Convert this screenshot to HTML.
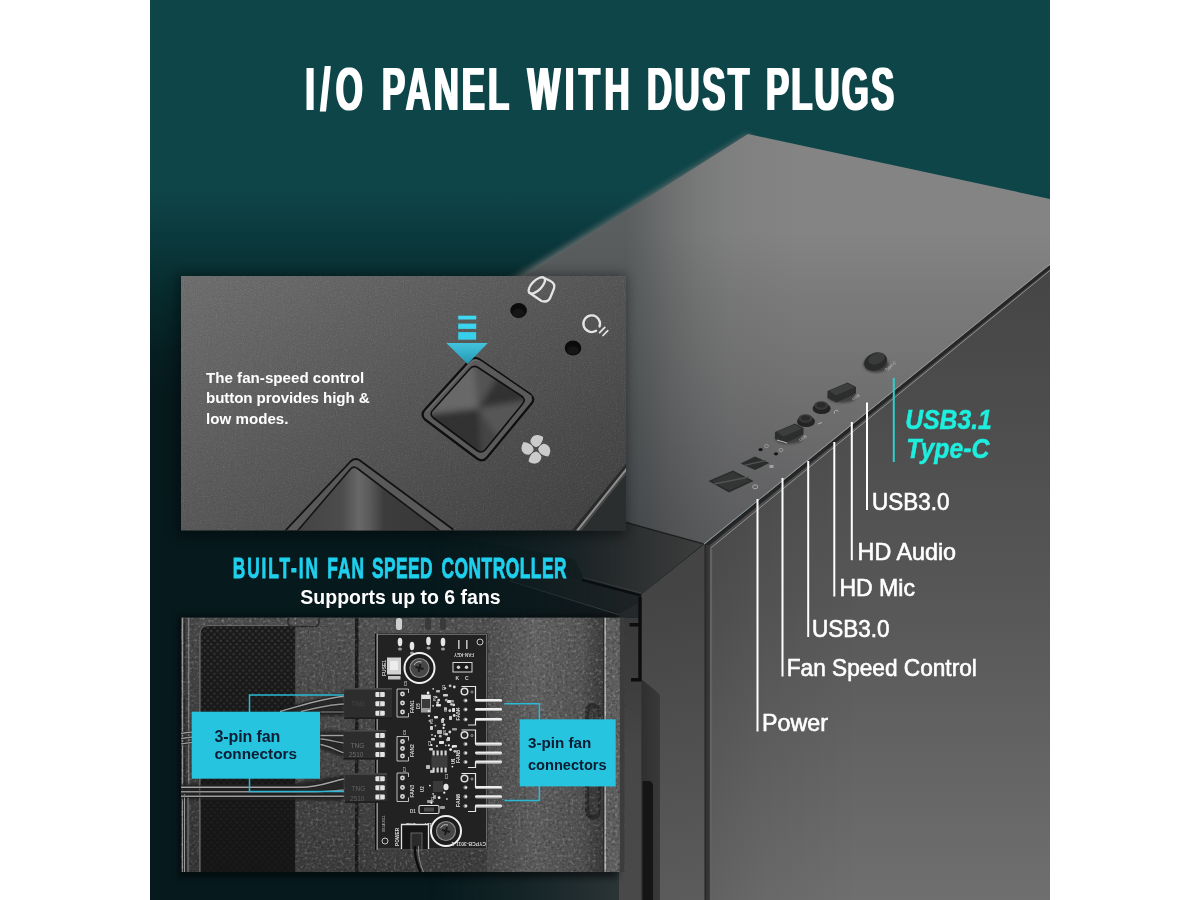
<!DOCTYPE html>
<html lang="en">
<head>
<meta charset="utf-8">
<title>I/O Panel with Dust Plugs</title>
<style>
html,body{margin:0;padding:0;background:#fff;}
body{width:1200px;height:900px;overflow:hidden;position:relative;font-family:"Liberation Sans",sans-serif;}
#stage{position:absolute;left:150px;top:0;width:900px;height:900px;overflow:hidden;background:#0d464b;}
#stage svg{position:absolute;left:0;top:0;display:block;opacity:.999;}
text{font-family:"Liberation Sans",sans-serif;}
.lbl{font-size:23.4px;fill:#fff;stroke:#fff;stroke-width:.6px;}
.ln{stroke:#fff;stroke-width:2;}
</style>
</head>
<body>
<div id="stage">
<svg width="900" height="900" viewBox="150 0 900 900">
<defs>
<linearGradient id="gBg" x1="0" y1="0" x2="0" y2="1">
 <stop offset="0" stop-color="#0e4549"/>
 <stop offset="0.21" stop-color="#0e4549"/>
 <stop offset="0.272" stop-color="#0a373b"/>
 <stop offset="0.333" stop-color="#07292b"/>
 <stop offset="0.39" stop-color="#061e21"/>
 <stop offset="0.444" stop-color="#06191c"/>
 <stop offset="1" stop-color="#061a1e"/>
</linearGradient>
<linearGradient id="gTop" x1="0" y1="134" x2="0" y2="545" gradientUnits="userSpaceOnUse">
 <stop offset="0" stop-color="#848484"/>
 <stop offset="0.2336" stop-color="#848484"/>
 <stop offset="0.404" stop-color="#7a7a7a"/>
 <stop offset="0.5255" stop-color="#757575"/>
 <stop offset="0.708" stop-color="#6c6c6d"/>
 <stop offset="0.89" stop-color="#636365"/>
 <stop offset="1" stop-color="#5e5e60"/>
</linearGradient>
<linearGradient id="gSide" x1="0" y1="265" x2="0" y2="900" gradientUnits="userSpaceOnUse">
 <stop offset="0" stop-color="#454545"/>
 <stop offset="0.53" stop-color="#575757"/>
 <stop offset="1" stop-color="#6f6f6f"/>
</linearGradient>
<linearGradient id="gP1" x1="181" y1="276" x2="429" y2="663.3" gradientUnits="userSpaceOnUse">
 <stop offset="0" stop-color="#6e6e6e"/>
 <stop offset="1" stop-color="#3e3e3e"/>
</linearGradient>
<filter id="blur3" x="-20%" y="-20%" width="140%" height="140%"><feGaussianBlur stdDeviation="3"/></filter>
<filter id="blur6" x="-20%" y="-20%" width="140%" height="140%"><feGaussianBlur stdDeviation="6"/></filter>
<filter id="blur1" x="-20%" y="-20%" width="140%" height="140%"><feGaussianBlur stdDeviation="1"/></filter>
<filter id="fatx" x="-2%" y="-10%" width="104%" height="120%"><feMorphology operator="dilate" radius="1 0"/></filter>
<filter id="fatx2" x="-2%" y="-10%" width="104%" height="120%"><feMorphology operator="dilate" radius="0.5 0"/></filter>
<linearGradient id="gTopShade" x1="626" y1="0" x2="800" y2="0" gradientUnits="userSpaceOnUse">
 <stop offset="0" stop-color="#0a1416" stop-opacity=".34"/>
 <stop offset="0.138" stop-color="#0a1416" stop-opacity=".26"/>
 <stop offset="0.253" stop-color="#0a1416" stop-opacity=".18"/>
 <stop offset="0.425" stop-color="#0a1416" stop-opacity=".095"/>
 <stop offset="0.6" stop-color="#0a1416" stop-opacity=".04"/>
 <stop offset="1" stop-color="#0a1416" stop-opacity="0"/>
</linearGradient>
<linearGradient id="gSideL" x1="710" y1="0" x2="860" y2="0" gradientUnits="userSpaceOnUse">
 <stop offset="0" stop-color="#000" stop-opacity=".12"/>
 <stop offset="0.35" stop-color="#000" stop-opacity=".06"/>
 <stop offset="1" stop-color="#000" stop-opacity="0"/>
</linearGradient>
<linearGradient id="gFront" x1="642" y1="600" x2="704" y2="900" gradientUnits="userSpaceOnUse">
 <stop offset="0" stop-color="#444"/>
 <stop offset="0.5" stop-color="#505050"/>
 <stop offset="1" stop-color="#5c5c5c"/>
</linearGradient>
<linearGradient id="gBevel" x1="560" y1="0" x2="705" y2="0" gradientUnits="userSpaceOnUse">
 <stop offset="0" stop-color="#202729"/>
 <stop offset="0.45" stop-color="#2a2d2e"/>
 <stop offset="1" stop-color="#3d3e3e"/>
</linearGradient>
<clipPath id="cpP1"><rect x="181" y="276" width="445" height="254.5"/></clipPath>
<clipPath id="cpBtn"><path d="M433.5,409.500 L469.7,369 Q473.3,364.5 478,367.5 L521.5,396 Q526.5,399.5 522.5,404 L485.500,449.5 Q481.800,454 477,450.5 L433.5,418 Q428.5,413.5 433.5,409.500 Z"/></clipPath>
<linearGradient id="gBtn2" x1="300" y1="0" x2="440" y2="0" gradientUnits="userSpaceOnUse">
 <stop offset="0" stop-color="#444"/>
 <stop offset="0.3" stop-color="#4c4c4c"/>
 <stop offset="0.42" stop-color="#686868"/>
 <stop offset="0.5" stop-color="#5a5a5a"/>
 <stop offset="0.6" stop-color="#3c3c3c"/>
 <stop offset="1" stop-color="#383838"/>
</linearGradient>
<linearGradient id="gArrow" x1="0" y1="343" x2="0" y2="364" gradientUnits="userSpaceOnUse">
 <stop offset="0" stop-color="#43c4de"/>
 <stop offset="1" stop-color="#2796b2"/>
</linearGradient>
<clipPath id="cpPhoto"><rect x="181" y="617.500" width="443.300" height="254.500"/></clipPath>
<pattern id="mesh" x="200" y="626" width="6.400" height="6.600" patternUnits="userSpaceOnUse">
 <circle cx="1.600" cy="1.650" r="1.150" fill="#3a3a3a"/><circle cx="4.800" cy="4.950" r="1.150" fill="#3a3a3a"/>
</pattern>
<filter id="fGrain" x="0" y="0" width="100%" height="100%" color-interpolation-filters="sRGB">
 <feTurbulence type="fractalNoise" baseFrequency="0.85" numOctaves="2" seed="3" result="n"/>
 <feColorMatrix in="n" type="matrix" values="0 0 0 0 1  0 0 0 0 1  0 0 0 0 1  1.6 0 0 0 -0.8" result="w"/>
 <feColorMatrix in="n" type="matrix" values="0 0 0 0 0  0 0 0 0 0  0 0 0 0 0  0 -1.6 0 0 0.8" result="b"/>
 <feMerge><feMergeNode in="w"/><feMergeNode in="b"/></feMerge>
</filter>
<pattern id="grain" x="0" y="0" width="220" height="220" patternUnits="userSpaceOnUse">
 <rect width="220" height="220" filter="url(#fGrain)"/>
</pattern>
<filter id="fGrainP" x="0" y="0" width="100%" height="100%" color-interpolation-filters="sRGB">
 <feTurbulence type="fractalNoise" baseFrequency="0.36" numOctaves="2" seed="11" result="n"/>
 <feColorMatrix in="n" type="matrix" values="0 0 0 0 1  0 0 0 0 1  0 0 0 0 1  2.2 0 0 0 -1.1" result="w"/>
 <feColorMatrix in="n" type="matrix" values="0 0 0 0 0  0 0 0 0 0  0 0 0 0 0  0 -2.6 0 0 1.3" result="b"/>
 <feMerge><feMergeNode in="w"/><feMergeNode in="b"/></feMerge>
</filter>
<pattern id="grainP" x="0" y="0" width="230" height="260" patternUnits="userSpaceOnUse">
 <rect width="230" height="260" filter="url(#fGrainP)"/>
</pattern>
<linearGradient id="gPhotoV" x1="0" y1="618" x2="0" y2="872" gradientUnits="userSpaceOnUse">
 <stop offset="0" stop-color="#000" stop-opacity="0"/>
 <stop offset="1" stop-color="#000" stop-opacity=".2"/>
</linearGradient>
<linearGradient id="gFadeL" x1="430" y1="0" x2="625" y2="0" gradientUnits="userSpaceOnUse">
 <stop offset="0" stop-color="#fff" stop-opacity="0"/>
 <stop offset="0.45" stop-color="#fff" stop-opacity=".35"/>
 <stop offset="1" stop-color="#fff" stop-opacity="1"/>
</linearGradient>
<mask id="mFadeL" maskUnits="userSpaceOnUse" x="400" y="500" width="320" height="400"><rect x="400" y="500" width="320" height="400" fill="url(#gFadeL)"/><rect x="625" y="500" width="95" height="400" fill="#fff"/></mask>
<linearGradient id="gMid" x1="0" y1="618" x2="0" y2="872" gradientUnits="userSpaceOnUse">
 <stop offset="0" stop-color="#505050"/>
 <stop offset="1" stop-color="#404040"/>
</linearGradient>
<linearGradient id="gRightH" x1="487" y1="0" x2="604" y2="0" gradientUnits="userSpaceOnUse">
 <stop offset="0" stop-color="#4e4e4e"/>
 <stop offset="0.4" stop-color="#626262"/>
 <stop offset="0.8" stop-color="#565656"/>
 <stop offset="0.93" stop-color="#444"/>
 <stop offset="1" stop-color="#3c3c3c"/>
</linearGradient>
<linearGradient id="gMeshV" x1="0" y1="626" x2="0" y2="872" gradientUnits="userSpaceOnUse">
 <stop offset="0" stop-color="#171717" stop-opacity="0"/>
 <stop offset="0.5" stop-color="#171717" stop-opacity=".45"/>
 <stop offset="1" stop-color="#171717" stop-opacity=".85"/>
</linearGradient>
<linearGradient id="gInner" x1="0" y1="600" x2="0" y2="900" gradientUnits="userSpaceOnUse">
 <stop offset="0" stop-color="#383838"/>
 <stop offset="0.3" stop-color="#3e3e3e"/>
 <stop offset="0.5" stop-color="#474747"/>
 <stop offset="1" stop-color="#494949"/>
</linearGradient>
<linearGradient id="gBump" x1="641" y1="0" x2="660" y2="0" gradientUnits="userSpaceOnUse">
 <stop offset="0" stop-color="#000" stop-opacity=".18"/>
 <stop offset="1" stop-color="#000" stop-opacity="0"/>
</linearGradient>
<linearGradient id="gFrameV" x1="0" y1="618" x2="0" y2="872" gradientUnits="userSpaceOnUse">
 <stop offset="0" stop-color="#464646"/>
 <stop offset="1" stop-color="#383838"/>
</linearGradient>

</defs>
<rect x="150" y="0" width="900" height="900" fill="url(#gBg)"/>

<g id="case">
 <!-- soft (out of focus) far-left edge of the top face -->
 <polygon points="748,134 762,150 480,330 442,322" fill="#6d7172" filter="url(#blur3)" opacity=".9"/>
 <!-- top face -->
 <polygon points="748,134 1050,199 1050,265 704,544.5 600,514 452,322" fill="url(#gTop)"/>
 <polygon points="748,134 1050,199 1050,265 704,544.5 600,514 452,322" fill="url(#gTopShade)"/>
 <!-- side panel -->
 <polygon points="705,546 1050,265 1050,900 705,900" fill="url(#gSide)"/>
 <polygon points="705,546 1050,265 1050,900 705,900" fill="url(#gSideL)"/>
 <!-- seam between top face and side panel -->
 <line x1="704" y1="544.2" x2="1050" y2="264.2" stroke="#9a9a9a" stroke-width="1.1" opacity=".8"/>
 <line x1="705" y1="547" x2="1050" y2="266.8" stroke="#262626" stroke-width="3"/>
 <line x1="709.7" y1="548.9" x2="1050" y2="270.4" stroke="#9a9a9a" stroke-width="1" opacity=".85"/>
 <!-- side panel front strip -->
 <rect x="704.2" y="545" width="6" height="355" fill="#353535"/>
 <rect x="704.4" y="545" width="1.800" height="355" fill="#2a2a2a"/>
 <rect x="709.8" y="549" width="2.400" height="351" fill="#626262"/>
 <!-- lower bezel faded into the background -->
 <g mask="url(#mFadeL)">
  <rect x="400" y="872" width="242" height="28" fill="#2d3537"/>
  <polygon points="430,533 574,559 584,578.7 510,570 430,556" fill="#192022"/>
  <!-- top front bevel -->
  <polygon points="625.3,522.6 703.4,544 641.3,594.6 584,578.7 574,559 430,533 430,530.5 625.3,530.5" fill="url(#gBevel)"/>
  <!-- ledge under the bevel -->
  <polygon points="430,556 510,570 584,578.7 641.3,594.6 641.3,600.5 618.7,613.5 510,581 430,560" fill="#1d2224"/>
  <polygon points="430,560 510,581 618.7,613.5 618.7,618 430,618" fill="#14191b"/>
  <line x1="510" y1="581" x2="620" y2="615" stroke="#3c4244" stroke-width="1.100"/>
  <line x1="582" y1="580" x2="641.3" y2="595.600" stroke="#0b0d0e" stroke-width="2.400"/>
  <line x1="583" y1="577.600" x2="641" y2="593" stroke="#3a3e40" stroke-width=".9"/>
 </g>
 <line x1="625.3" y1="522.3" x2="703.6" y2="543.8" stroke="#1e1e1e" stroke-width="1.300"/>
 <!-- inner side of the bezel, right of the photo -->
 <rect x="619" y="617" width="24" height="283" fill="url(#gInner)"/>
 <polygon points="618.7,613.5 641.3,600.5 641.3,618 618.7,618" fill="#25282a"/>
 <!-- front face -->
 <polygon points="641.3,594.6 704.4,544 704.4,900 641.3,900" fill="url(#gFront)"/>
 <!-- handle bump -->
 <polygon points="641.3,679 658.2,693 660,696 660,900 641.3,900" fill="#393939"/>
 <polygon points="641.3,679 658.2,693 660,696 660,900 641.3,900" fill="url(#gBump)"/>
 <path d="M642.6,900 V781 H649 Q653,781.500 653,787 V900 Z" fill="#151515"/>
 <!-- black seam with ticks -->
 <path d="M640,597 V679 M629.500,624.800 H640 M631,679.800 H641.500" fill="none" stroke="#0d0d0d" stroke-width="3.400"/>
</g>
<g id="io">
 <polygon points="708.5,481 733,470.5 753.5,481 729,492.5" fill="#2a2b2b"/>
 <polygon points="712,481 733,472 750,481 729,490.5" fill="#343535"/>
 <line x1="714" y1="484" x2="749" y2="477" stroke="#515252" stroke-width="1.6"/>
 <ellipse cx="755.2" cy="486.8" rx="2.6" ry="2" fill="none" stroke="#b8b8b8" stroke-width=".8"/>
 <polygon points="740.5,463.5 755,456.5 769.5,463 755,470" fill="#2b2c2c"/>
 <line x1="744" y1="465.5" x2="766" y2="460.5" stroke="#505151" stroke-width="1.3"/>
 <rect x="769.5" y="465" width="4" height="3" fill="#b0b0b0" opacity=".8"/>
 <ellipse cx="760.6" cy="449.6" rx="2.1" ry="1.6" fill="#161616"/>
 <ellipse cx="776" cy="453.8" rx="2.1" ry="1.6" fill="#161616"/>
 <ellipse cx="766.5" cy="446" rx="2" ry="1.6" fill="none" stroke="#a8a8a8" stroke-width=".7"/>
 <ellipse cx="781" cy="450" rx="2" ry="1.6" fill="none" stroke="#a8a8a8" stroke-width=".7"/>
 <ellipse cx="789" cy="438" rx="14" ry="6" fill="#1f1f1f" opacity=".55" filter="url(#blur1)"/>
 <polygon points="775,432 795,423.5 803.5,428 803.5,434.5 784,443.5 775,439" fill="#2c2d2d"/>
 <polygon points="776.5,431.5 795,424.5 802,428.5 783.5,436.5" fill="#3c3d3d"/>
 <line x1="777" y1="440" x2="787" y2="443" stroke="#b5b5b5" stroke-width="1.2"/>
 <text transform="translate(800,441.5) rotate(-32)" font-size="4" fill="#c4c4c4">USB</text>
 <ellipse cx="806" cy="421.5" rx="9" ry="5.5" fill="#232323"/>
 <ellipse cx="805.5" cy="418.5" rx="7" ry="4.2" fill="#383939"/>
 <ellipse cx="805.5" cy="418" rx="4.5" ry="2.6" fill="#2a2a2a"/>
 <ellipse cx="821.6" cy="408.5" rx="9" ry="5.5" fill="#232323"/>
 <ellipse cx="821.2" cy="405.5" rx="7" ry="4.2" fill="#383939"/>
 <ellipse cx="821.2" cy="405" rx="4.5" ry="2.6" fill="#2a2a2a"/>
 <path d="M834.5,413.5a2.2,2.2 0 1 1 4,-2" fill="none" stroke="#b8b8b8" stroke-width=".9"/>
 <path d="M818,424l4,-1.5" stroke="#b8b8b8" stroke-width=".9"/>
 <ellipse cx="842" cy="397" rx="14" ry="6" fill="#1f1f1f" opacity=".55" filter="url(#blur1)"/>
 <polygon points="827.5,391 847.5,382.5 856,387 856,393.5 836.5,402.5 827.5,398" fill="#2c2d2d"/>
 <polygon points="829,390.5 847.5,383.5 854.5,387.5 836,395.5" fill="#3c3d3d"/>
 <text transform="translate(853,400.5) rotate(-32)" font-size="4" fill="#c4c4c4">USB</text>
 <ellipse cx="876" cy="364.5" rx="12.5" ry="8" fill="#1d1d1d" opacity=".6" filter="url(#blur1)"/>
 <ellipse cx="875.6" cy="361.6" rx="11.8" ry="8.8" transform="rotate(-22 875.6 361.6)" fill="#2a2b2b"/>
 <ellipse cx="876.5" cy="358.6" rx="8.5" ry="5.2" transform="rotate(-22 876.5 358.6)" fill="#3a3b3b"/>
 <text transform="translate(886,371.5) rotate(-38)" font-size="4.2" fill="#c4c4c4">Type-C</text>
</g>

<g id="panel1">
 <rect x="177" y="274" width="449" height="262" fill="#000" opacity=".4" filter="url(#blur6)"/>
 <rect x="181" y="276" width="445" height="254.5" fill="url(#gP1)"/>
 <rect x="181" y="276" width="445" height="254.5" fill="url(#grain)" opacity=".16"/>
 <g clip-path="url(#cpP1)">
  <!-- chamfer at the bottom right -->
  <polygon points="626,465.5 573.5,530.5 626,530.5" fill="#2b2e2e"/>
  <line x1="627" y1="464.5" x2="573" y2="531" stroke="#2a2a2a" stroke-width="2.4"/>
  <line x1="627" y1="468.5" x2="577" y2="531" stroke="#8d8d8d" stroke-width="2.2"/>
  <line x1="627" y1="471.5" x2="580" y2="531" stroke="#4a4a4a" stroke-width="1.6"/>
  <!-- big button, bottom left -->
  <path d="M285,531 L350.5,461.5 Q355,457 360,460.5 L452.5,529 L452.5,531 Z" fill="#595959" stroke="#121212" stroke-width="1.8" stroke-linejoin="round"/>
  <path d="M297,531.5 L350.5,469 Q353.5,465.5 357.5,468.5 L440.5,531.5 Z" fill="url(#gBtn2)" stroke="#141414" stroke-width="1.6" stroke-linejoin="round"/>
  <!-- fan speed button -->
  <path d="M425,409.5 L469.5,360.500 Q474.2,356 479.500,359.5 L530.5,394.5 Q535.5,398.5 531.5,403.5 L487,457.5 Q482.7,462.5 477,458.5 L425,419.500 Q420,414.5 425,409.5 Z" fill="#5a5a5a" stroke="#0f0f0f" stroke-width="2.2" stroke-linejoin="round"/>
  <path d="M425,409.5 L469.5,360.500 Q474.2,356 479.500,359.5 L530.5,394.5" fill="none" stroke="#7a7a7a" stroke-width=".8" transform="translate(1.4,2)"/>
  <g clip-path="url(#cpBtn)">
   <rect x="425" y="360" width="105" height="100" fill="#454545"/>
   <g filter="url(#blur3)">
    <polygon points="478,408.6 420,415 473.3,355" fill="#686868"/>
    <polygon points="478,408.6 473.3,355 500,370 " fill="#525252"/>
    <polygon points="478,408.6 500,375 535,399" fill="#333"/>
    <polygon points="478,408.6 535,399 500,440" fill="#565656"/>
    <polygon points="478,408.6 500,440 481.8,462" fill="#444"/>
    <polygon points="478,408.6 481.800,462 420,415" fill="#303030"/>
   </g>
  </g>
  <path d="M433.5,409.500 L469.7,369 Q473.3,364.5 478,367.5 L521.5,396 Q526.5,399.5 522.5,404 L485.500,449.5 Q481.800,454 477,450.5 L433.5,418 Q428.5,413.5 433.5,409.500 Z" fill="none" stroke="#101010" stroke-width="1.6" stroke-linejoin="round"/>
  <!-- LED holes -->
  <ellipse cx="518.6" cy="310.5" rx="8.300" ry="7.600" fill="#0b0b0b"/>
  <ellipse cx="573" cy="348" rx="8.300" ry="7.600" fill="#0b0b0b"/>
  <ellipse cx="518.6" cy="313" rx="6" ry="4.200" fill="#151515"/>
  <ellipse cx="573" cy="350.5" rx="6" ry="4.200" fill="#151515"/>
  <!-- HDD icon -->
  <g fill="none" stroke="#e4e4e4" stroke-width="2.300" stroke-linecap="round" stroke-linejoin="round">
   <ellipse cx="536.8" cy="285.4" rx="10.4" ry="4.900" transform="rotate(-45 536.8 285.4)"/>
   <path d="M544.2,278 L550,280.8 Q555.500,283.500 554,288.500 L550.300,297.500 Q548,303 541.500,301 L529.400,292.800"/>
   <!-- bulb icon -->
   <path d="M596,330.800 A8.300,8.300 0 1 1 599.5,326.500"/>
   <path d="M599.6,332.600 L604.800,327.400 M603,335.500 L607.800,330.700" stroke-width="1.700"/>
  </g>
  <!-- fan icon -->
  <g transform="translate(535.9,449.3)" fill="#cbcbcb">
   <path id="blade" d="M-0.6,-2.2 C-3,-3.5 -5,-5.5 -5.5,-7.3 C-5.6,-10 -4,-12.2 -2.4,-13.3 C-1,-14.2 1,-14.6 2.4,-14.3 C4.500,-13.9 6.500,-13 7.300,-12 C7,-9 5.800,-6.500 4.300,-4.600 C3,-3.200 1,-2.400 -0.6,-2.2 Z"/>
   <use href="#blade" transform="rotate(90)"/>
   <use href="#blade" transform="rotate(180)"/>
   <use href="#blade" transform="rotate(270)"/>
  </g>
  <!-- arrow -->
  <rect x="458.200" y="315.700" width="18" height="3.800" fill="#3edaf4"/>
  <rect x="458.200" y="323.600" width="18" height="5.300" fill="#3ad6f1"/>
  <rect x="458.200" y="332.100" width="18" height="7.600" fill="#36cfec"/>
  <polygon points="446.3,343.100 487.8,343.100 467.6,363.900" fill="url(#gArrow)"/>
 </g>
</g>

<g id="photo">
<rect x="178" y="616" width="440" height="262" fill="#000" opacity=".5" filter="url(#blur3)"/>
<g clip-path="url(#cpPhoto)">
<rect x="181" y="617.500" width="446" height="254.5" fill="#424242"/>
<rect x="181" y="617.500" width="20" height="255" fill="url(#gFrameV)"/>
<rect x="182" y="617.500" width="1.200" height="255" fill="#9a9a9a"/>
<rect x="183.600" y="617.500" width="1.800" height="255" fill="#2a2a2a"/>
<rect x="188.200" y="617.500" width="1.100" height="255" fill="#8c8c8c"/>
<rect x="199" y="617.500" width="97" height="9" fill="#4c4c4c"/>
<path d="M200,872 V634 Q200,625.600 208.5,625.600 H295.400 V872 Z" fill="#1a1a1a"/>
<path d="M200,872 V634 Q200,625.600 208.5,625.600 H295.400 V872 Z" fill="url(#mesh)"/>
<rect x="200" y="625.600" width="95.400" height="247" fill="url(#gMeshV)"/>
<path d="M200,872 V634 Q200,625.600 208.5,625.600 H295.400" fill="none" stroke="#6a6a6a" stroke-width="1"/>
<rect x="295.400" y="617.500" width="60" height="255" fill="url(#gMid)"/>
<rect x="355" y="617.500" width="3.800" height="255" fill="#1c1c1c"/>
<rect x="358.800" y="617.500" width="1" height="255" fill="#666"/>
<rect x="358.800" y="617.500" width="129" height="255" fill="url(#gMid)"/>
<rect x="487" y="617.500" width="117" height="255" fill="url(#gRightH)"/>
<path d="M288,617.500 V622 Q288,626.500 293,626.500 H314 Q319,626.500 319,622 V617.500" fill="#505050" stroke="#2a2a2a" stroke-width="1.400"/>
<rect x="585" y="703" width="16" height="117" rx="8" fill="#2d2d2d"/>
<rect x="589" y="708" width="9" height="107" rx="4.500" fill="#3d3d3d"/>
<rect x="181" y="617.500" width="446" height="255" fill="url(#gPhotoV)" opacity=".4"/>
<rect x="295.400" y="617.500" width="330" height="255" fill="url(#grainP)" opacity=".26"/>
<rect x="181" y="617.500" width="19" height="255" fill="url(#grainP)" opacity=".25"/>
<rect x="200" y="617.500" width="96" height="8" fill="url(#grainP)" opacity=".3"/>
<rect x="603" y="617.500" width="1.500" height="255" fill="#2a2a2a"/>
<rect x="604.500" y="617.500" width="15.500" height="255" fill="#5e5e5e"/>
<rect x="604.500" y="617.500" width="1.400" height="255" fill="#b4b4b4"/>
<rect x="604.500" y="617.500" width="15.500" height="255" fill="url(#grainP)" opacity=".3"/>
<rect x="619.800" y="617.500" width="4.500" height="255" fill="#3c3c3c"/>
<g filter="url(#blur1)" fill="#222" opacity=".85">
<polygon points="281,708 344,692.500 344,716 296,716"/>
<polygon points="320,731 344,731 344,757 320,749"/>
<polygon points="296,783 344,775 344,801 296,800"/>
<rect x="181" y="784" width="116" height="16"/>
</g>
<rect x="199" y="634" width="1.300" height="238" fill="#606060"/>
<path d="M184.500,794 V872" fill="none" stroke="#1c1c1c" stroke-width="2.7" opacity=".8"/>
<path d="M184.500,794 V872" fill="none" stroke="#9a9a9a" stroke-width="1.1"/>
<path d="M188,797 V872" fill="none" stroke="#1c1c1c" stroke-width="2.7" opacity=".8"/>
<path d="M188,797 V872" fill="none" stroke="#8a8a8a" stroke-width="1.1"/>
<path d="M181,733.3 C186,732.8 190,731.8 194,731.8" fill="none" stroke="#1c1c1c" stroke-width="2.9000000000000004" opacity=".8"/>
<path d="M181,733.3 C186,732.8 190,731.8 194,731.8" fill="none" stroke="#a4a4a4" stroke-width="1.3"/>
<path d="M181,738.5 C186,738 190,737 194,737" fill="none" stroke="#1c1c1c" stroke-width="2.9000000000000004" opacity=".8"/>
<path d="M181,738.5 C186,738 190,737 194,737" fill="none" stroke="#929292" stroke-width="1.3"/>
<path d="M181,743.8 C186,743.3 190,742.3 194,742.3" fill="none" stroke="#1c1c1c" stroke-width="2.9000000000000004" opacity=".8"/>
<path d="M181,743.8 C186,743.3 190,742.3 194,742.3" fill="none" stroke="#9c9c9c" stroke-width="1.3"/>
<path d="M343.800,696.500 C325,697.500 300,706 280,711.500" fill="none" stroke="#1c1c1c" stroke-width="2.9000000000000004" opacity=".8"/>
<path d="M343.800,696.500 C325,697.500 300,706 280,711.500" fill="none" stroke="#a0a0a0" stroke-width="1.3"/>
<path d="M343.800,704 C330,704.500 315,708 301,711.500" fill="none" stroke="#1c1c1c" stroke-width="2.9000000000000004" opacity=".8"/>
<path d="M343.800,704 C330,704.500 315,708 301,711.500" fill="none" stroke="#969696" stroke-width="1.3"/>
<path d="M343.800,712 H320.500" fill="none" stroke="#1c1c1c" stroke-width="2.8" opacity=".8"/>
<path d="M343.800,712 H320.500" fill="none" stroke="#8c8c8c" stroke-width="1.2"/>
<path d="M320.500,735.500 H343.800" fill="none" stroke="#1c1c1c" stroke-width="2.9000000000000004" opacity=".8"/>
<path d="M320.500,735.500 H343.800" fill="none" stroke="#a0a0a0" stroke-width="1.3"/>
<path d="M320.500,739 C330,739.500 336,742 343.800,743" fill="none" stroke="#1c1c1c" stroke-width="2.9000000000000004" opacity=".8"/>
<path d="M320.500,739 C330,739.500 336,742 343.800,743" fill="none" stroke="#969696" stroke-width="1.3"/>
<path d="M320.500,744.500 C330,746 336,750.500 343.800,752.800" fill="none" stroke="#1c1c1c" stroke-width="2.9000000000000004" opacity=".8"/>
<path d="M320.500,744.500 C330,746 336,750.500 343.800,752.800" fill="none" stroke="#9c9c9c" stroke-width="1.3"/>
<path d="M181,787.300 H300 C320,787.300 332,781 343.800,779" fill="none" stroke="#1c1c1c" stroke-width="3.0" opacity=".8"/>
<path d="M181,787.300 H300 C320,787.300 332,781 343.800,779" fill="none" stroke="#a4a4a4" stroke-width="1.4"/>
<path d="M181,791.800 H310 C325,791.800 335,790.500 343.800,790" fill="none" stroke="#1c1c1c" stroke-width="3.0" opacity=".8"/>
<path d="M181,791.800 H310 C325,791.800 335,790.500 343.800,790" fill="none" stroke="#929292" stroke-width="1.4"/>
<path d="M181,796.300 H343.800" fill="none" stroke="#1c1c1c" stroke-width="3.0" opacity=".8"/>
<path d="M181,796.300 H343.800" fill="none" stroke="#9c9c9c" stroke-width="1.4"/>
<rect x="376.500" y="633.500" width="111" height="216.500" fill="#222"/>
<rect x="377.500" y="634.500" width="109" height="214.500" fill="none" stroke="#6e6e6e" stroke-width=".9"/>
<rect x="375" y="633.500" width="1.500" height="216.500" fill="#0c0c0c"/>
<rect x="376.500" y="633.500" width="1.500" height="216.500" fill="#8c8c8c"/>
<rect x="396" y="618" width="6" height="12" rx="2.500" fill="#cfcfcf"/>
<rect x="425" y="618" width="6" height="12" rx="2.500" fill="#3a3a3a"/>
<rect x="440" y="618" width="6" height="12" rx="2.500" fill="#3a3a3a"/>
<ellipse cx="400" cy="642" rx="2.300" ry="4.200" fill="#e6e6e6"/>
<ellipse cx="400" cy="649" rx="2" ry="1.600" fill="#9a9a9a"/>
<ellipse cx="412" cy="646" rx="2.300" ry="4.200" fill="#e6e6e6"/>
<ellipse cx="412" cy="653" rx="2" ry="1.600" fill="#9a9a9a"/>
<ellipse cx="428.5" cy="641" rx="2.300" ry="4.200" fill="#e6e6e6"/>
<ellipse cx="428.5" cy="648" rx="2" ry="1.600" fill="#9a9a9a"/>
<ellipse cx="443" cy="642" rx="2.300" ry="4.200" fill="#e6e6e6"/>
<ellipse cx="443" cy="649" rx="2" ry="1.600" fill="#9a9a9a"/>
<circle cx="480" cy="642" r="3" fill="#222" stroke="#c8c8c8" stroke-width="1"/>
<circle cx="385" cy="841" r="3" fill="#222" stroke="#c8c8c8" stroke-width="1"/>
<rect x="387" y="657.500" width="14" height="17" fill="#d2d2d2"/>
<rect x="388" y="676" width="12.500" height="3.500" fill="#c4c4c4"/>
<rect x="390" y="661" width="8" height="9" fill="#ececec"/>
<text transform="translate(385.500,676) rotate(-90)" font-size="5" fill="#d0d0d0" font-weight="bold">FUSE1</text>
<circle cx="419.5" cy="668" r="15" fill="#1c1c1c" stroke="#f0f0f0" stroke-width="2"/>
<circle cx="419.5" cy="668" r="9.500" fill="#474747" stroke="#8a8a8a" stroke-width="1.200"/>
<path d="M415.5,667 L423.5,669 M420.5,664 L418.5,672" stroke="#1a1a1a" stroke-width="2"/>
<path d="M414.0,665 A6.500,6.500 0 0 1 421.5,662" stroke="#c0c0c0" stroke-width="1" fill="none"/>
<circle cx="446" cy="831" r="15" fill="#1c1c1c" stroke="#f0f0f0" stroke-width="2"/>
<circle cx="446" cy="831" r="9.500" fill="#474747" stroke="#8a8a8a" stroke-width="1.200"/>
<path d="M442,830 L450,832 M447,827 L445,835" stroke="#1a1a1a" stroke-width="2"/>
<path d="M440.5,828 A6.500,6.500 0 0 1 448,825" stroke="#c0c0c0" stroke-width="1" fill="none"/>
<rect x="453" y="662.500" width="19" height="9.500" fill="#1a1a1a" stroke="#d8d8d8" stroke-width="1"/>
<circle cx="458.500" cy="667.300" r="1.700" fill="#cfcfcf"/><circle cx="466.500" cy="667.300" r="1.700" fill="#cfcfcf"/>
<text x="455.500" y="680" font-size="5" fill="#d8d8d8" font-weight="bold">K</text>
<text x="465" y="680" font-size="5" fill="#d8d8d8" font-weight="bold">C</text>
<text transform="translate(474,653) rotate(180)" font-size="4.600" fill="#d0d0d0" font-weight="bold">FAN-KEY</text>
<rect x="458" y="640" width="1.600" height="9" fill="#bdbdbd"/><rect x="466" y="640" width="1.600" height="9" fill="#bdbdbd"/>
<circle cx="402.500" cy="694" r="2.400" fill="#dcdcdc"/>
<circle cx="402.500" cy="694" r=".9" fill="#555"/>
<circle cx="402.500" cy="703" r="2.400" fill="#dcdcdc"/>
<circle cx="402.500" cy="703" r=".9" fill="#555"/>
<circle cx="402.500" cy="712" r="2.400" fill="#dcdcdc"/>
<circle cx="402.500" cy="712" r=".9" fill="#555"/>
<path d="M397,689 H408.500 V693 M397,689 V717 H408.500 V713" fill="none" stroke="#cfcfcf" stroke-width=".9"/>
<text transform="translate(413.500,713) rotate(-90)" font-size="5" fill="#d6d6d6" font-weight="bold">FAN1</text>
<circle cx="402.500" cy="741.5" r="2.400" fill="#dcdcdc"/>
<circle cx="402.500" cy="741.5" r=".9" fill="#555"/>
<circle cx="402.500" cy="748.5" r="2.400" fill="#dcdcdc"/>
<circle cx="402.500" cy="748.5" r=".9" fill="#555"/>
<circle cx="402.500" cy="756" r="2.400" fill="#dcdcdc"/>
<circle cx="402.500" cy="756" r=".9" fill="#555"/>
<path d="M397,736.5 H408.500 V740.5 M397,736.5 V761 H408.500 V757" fill="none" stroke="#cfcfcf" stroke-width=".9"/>
<text transform="translate(413.500,757) rotate(-90)" font-size="5" fill="#d6d6d6" font-weight="bold">FAN2</text>
<circle cx="402.500" cy="778" r="2.400" fill="#dcdcdc"/>
<circle cx="402.500" cy="778" r=".9" fill="#555"/>
<circle cx="402.500" cy="787.5" r="2.400" fill="#dcdcdc"/>
<circle cx="402.500" cy="787.5" r=".9" fill="#555"/>
<circle cx="402.500" cy="796.5" r="2.400" fill="#dcdcdc"/>
<circle cx="402.500" cy="796.5" r=".9" fill="#555"/>
<path d="M397,773 H408.500 V777 M397,773 V801.5 H408.500 V797.5" fill="none" stroke="#cfcfcf" stroke-width=".9"/>
<text transform="translate(413.500,797.5) rotate(-90)" font-size="5" fill="#d6d6d6" font-weight="bold">FAN3</text>
<path d="M461.500,686.5 H475.500 V700.5 M475.500,719.5 V725.0 H468" fill="none" stroke="#e6e6e6" stroke-width="1.200"/>
<circle cx="464.500" cy="691.5" r="3.300" fill="#2a2a2a" stroke="#dedede" stroke-width="1.500"/>
<circle cx="472" cy="692.0" r="1.100" fill="none" stroke="#cfcfcf" stroke-width=".6"/>
<circle cx="465.500" cy="700.5" r="2.100" fill="#8c8c8c"/>
<circle cx="466" cy="700.5" r="1.100" fill="#f0f0f0"/>
<rect x="475" y="699.0" width="27" height="3" rx="1.400" fill="#eeeeee"/>
<rect x="476" y="701.1" width="25" height=".8" fill="#9c9c9c"/>
<circle cx="465.500" cy="709.5" r="2.100" fill="#8c8c8c"/>
<circle cx="466" cy="709.5" r="1.100" fill="#f0f0f0"/>
<rect x="475" y="708.0" width="27" height="3" rx="1.400" fill="#eeeeee"/>
<rect x="476" y="710.1" width="25" height=".8" fill="#9c9c9c"/>
<circle cx="465.500" cy="719.5" r="2.100" fill="#8c8c8c"/>
<circle cx="466" cy="719.5" r="1.100" fill="#f0f0f0"/>
<rect x="475" y="718.0" width="27" height="3" rx="1.400" fill="#eeeeee"/>
<rect x="476" y="720.1" width="25" height=".8" fill="#9c9c9c"/>
<text transform="translate(459.500,720.5) rotate(-90)" font-size="5.200" fill="#e0e0e0" font-weight="bold">FAN4</text>
<path d="M461.500,730 H475.500 V744 M475.500,762 V767.5 H468" fill="none" stroke="#e6e6e6" stroke-width="1.200"/>
<circle cx="464.500" cy="735" r="3.300" fill="#2a2a2a" stroke="#dedede" stroke-width="1.500"/>
<circle cx="472" cy="735.5" r="1.100" fill="none" stroke="#cfcfcf" stroke-width=".6"/>
<circle cx="465.500" cy="744" r="2.100" fill="#8c8c8c"/>
<circle cx="466" cy="744" r="1.100" fill="#f0f0f0"/>
<rect x="475" y="742.5" width="27" height="3" rx="1.400" fill="#eeeeee"/>
<rect x="476" y="744.6" width="25" height=".8" fill="#9c9c9c"/>
<circle cx="465.500" cy="753" r="2.100" fill="#8c8c8c"/>
<circle cx="466" cy="753" r="1.100" fill="#f0f0f0"/>
<rect x="475" y="751.5" width="27" height="3" rx="1.400" fill="#eeeeee"/>
<rect x="476" y="753.6" width="25" height=".8" fill="#9c9c9c"/>
<circle cx="465.500" cy="762" r="2.100" fill="#8c8c8c"/>
<circle cx="466" cy="762" r="1.100" fill="#f0f0f0"/>
<rect x="475" y="760.5" width="27" height="3" rx="1.400" fill="#eeeeee"/>
<rect x="476" y="762.6" width="25" height=".8" fill="#9c9c9c"/>
<text transform="translate(459.500,763) rotate(-90)" font-size="5.200" fill="#e0e0e0" font-weight="bold">FAN5</text>
<path d="M461.500,773.5 H475.500 V787.5 M475.500,806 V811.5 H468" fill="none" stroke="#e6e6e6" stroke-width="1.200"/>
<circle cx="464.500" cy="778.5" r="3.300" fill="#2a2a2a" stroke="#dedede" stroke-width="1.500"/>
<circle cx="472" cy="779.0" r="1.100" fill="none" stroke="#cfcfcf" stroke-width=".6"/>
<circle cx="465.500" cy="787.5" r="2.100" fill="#8c8c8c"/>
<circle cx="466" cy="787.5" r="1.100" fill="#f0f0f0"/>
<rect x="475" y="786.0" width="27" height="3" rx="1.400" fill="#eeeeee"/>
<rect x="476" y="788.1" width="25" height=".8" fill="#9c9c9c"/>
<circle cx="465.500" cy="796.7" r="2.100" fill="#8c8c8c"/>
<circle cx="466" cy="796.7" r="1.100" fill="#f0f0f0"/>
<rect x="475" y="795.2" width="27" height="3" rx="1.400" fill="#eeeeee"/>
<rect x="476" y="797.3000000000001" width="25" height=".8" fill="#9c9c9c"/>
<circle cx="465.500" cy="806" r="2.100" fill="#8c8c8c"/>
<circle cx="466" cy="806" r="1.100" fill="#f0f0f0"/>
<rect x="475" y="804.5" width="27" height="3" rx="1.400" fill="#eeeeee"/>
<rect x="476" y="806.6" width="25" height=".8" fill="#9c9c9c"/>
<text transform="translate(459.500,807) rotate(-90)" font-size="5.200" fill="#e0e0e0" font-weight="bold">FAN6</text>
<rect x="421.500" y="695" width="9" height="17" fill="#3a3a3a" stroke="#bdbdbd" stroke-width=".8"/><rect x="421.500" y="695" width="9" height="4" fill="#e0e0e0"/><rect x="421.500" y="708" width="9" height="4" fill="#9a9a9a"/>
<text transform="translate(420,709) rotate(-90)" font-size="4.500" fill="#d0d0d0" font-weight="bold">D5</text>
<rect x="436" y="690" width="4" height="2.5" rx=".8" fill="#b8b8b8"/>
<rect x="443" y="694" width="5" height="2.5" rx=".8" fill="#cfcfcf"/>
<rect x="449" y="700" width="5" height="2.5" rx=".8" fill="#9c9c9c"/>
<rect x="436" y="704" width="5" height="2.5" rx=".8" fill="#e2e2e2"/>
<rect x="444" y="708" width="3" height="2.5" rx=".8" fill="#b8b8b8"/>
<rect x="434" y="716" width="4" height="2.5" rx=".8" fill="#e2e2e2"/>
<rect x="441" y="719" width="3" height="4" rx=".8" fill="#b8b8b8"/>
<rect x="449" y="716" width="3" height="4" rx=".8" fill="#cfcfcf"/>
<rect x="430" y="726" width="3" height="4" rx=".8" fill="#cfcfcf"/>
<rect x="437" y="730" width="5" height="4" rx=".8" fill="#b8b8b8"/>
<rect x="445" y="733" width="3" height="2.5" rx=".8" fill="#cfcfcf"/>
<rect x="452" y="728" width="5" height="2.5" rx=".8" fill="#9c9c9c"/>
<rect x="431" y="738" width="4" height="2.5" rx=".8" fill="#cfcfcf"/>
<rect x="439" y="741" width="5" height="3" rx=".8" fill="#e2e2e2"/>
<rect x="447" y="737" width="3" height="4" rx=".8" fill="#e2e2e2"/>
<rect x="429" y="748" width="4" height="2.5" rx=".8" fill="#cfcfcf"/>
<rect x="452" y="745" width="5" height="2.5" rx=".8" fill="#e2e2e2"/>
<rect x="426" y="765" width="4" height="4" rx=".8" fill="#b8b8b8"/>
<rect x="430" y="770" width="4" height="3" rx=".8" fill="#b8b8b8"/>
<rect x="447" y="700" width="4" height="3" rx=".8" fill="#e2e2e2"/>
<rect x="452" y="708" width="3" height="4" rx=".8" fill="#e2e2e2"/>
<rect x="433" y="795" width="3" height="4" rx=".8" fill="#9c9c9c"/>
<rect x="427" y="800" width="5" height="3" rx=".8" fill="#9c9c9c"/>
<rect x="440" y="806" width="5" height="3" rx=".8" fill="#9c9c9c"/>
<circle cx="445.8" cy="745.3" r="0.9" fill="#c4c4c4"/>
<circle cx="450.6" cy="749.6" r="1.4" fill="#f0f0f0"/>
<circle cx="450.1" cy="685.8" r="1.4" fill="#c4c4c4"/>
<circle cx="429.9" cy="785.6" r="0.9" fill="#f0f0f0"/>
<circle cx="447.4" cy="739.9" r="1.4" fill="#c4c4c4"/>
<circle cx="445.2" cy="688.4" r="1.1" fill="#c4c4c4"/>
<circle cx="454.3" cy="687.0" r="1.4" fill="#d8d8d8"/>
<circle cx="431.5" cy="802.8" r="1.1" fill="#f0f0f0"/>
<circle cx="443.5" cy="727.9" r="1.1" fill="#f0f0f0"/>
<circle cx="433.2" cy="688.8" r="0.9" fill="#d8d8d8"/>
<circle cx="449.8" cy="710.7" r="1.4" fill="#d8d8d8"/>
<circle cx="431.4" cy="745.0" r="1.1" fill="#f0f0f0"/>
<circle cx="437.6" cy="702.7" r="1.4" fill="#c4c4c4"/>
<circle cx="436.2" cy="806.2" r="1.4" fill="#c4c4c4"/>
<circle cx="436.9" cy="746.0" r="1.1" fill="#d8d8d8"/>
<circle cx="451.4" cy="704.3" r="1.4" fill="#c4c4c4"/>
<circle cx="428.1" cy="693.0" r="1.4" fill="#f0f0f0"/>
<circle cx="444.0" cy="724.8" r="1.4" fill="#d8d8d8"/>
<circle cx="433.1" cy="705.8" r="1.1" fill="#a8a8a8"/>
<circle cx="436.6" cy="697.2" r="0.9" fill="#f0f0f0"/>
<circle cx="449.8" cy="732.0" r="1.4" fill="#d8d8d8"/>
<circle cx="446.9" cy="799.0" r="0.9" fill="#c4c4c4"/>
<circle cx="453.7" cy="704.9" r="1.4" fill="#d8d8d8"/>
<circle cx="452.7" cy="746.8" r="1.1" fill="#f0f0f0"/>
<circle cx="454.2" cy="715.5" r="1.4" fill="#d8d8d8"/>
<circle cx="440.3" cy="736.2" r="1.4" fill="#c4c4c4"/>
<circle cx="429.6" cy="720.9" r="1.1" fill="#a8a8a8"/>
<circle cx="429.0" cy="715.8" r="1.1" fill="#d8d8d8"/>
<circle cx="452.4" cy="766.6" r="0.9" fill="#f0f0f0"/>
<circle cx="448.9" cy="745.3" r="1.1" fill="#f0f0f0"/>
<circle cx="454.8" cy="751.3" r="1.4" fill="#c4c4c4"/>
<circle cx="428.8" cy="711.1" r="1.1" fill="#f0f0f0"/>
<circle cx="452.7" cy="761.0" r="1.1" fill="#c4c4c4"/>
<circle cx="444.3" cy="792.7" r="1.1" fill="#f0f0f0"/>
<circle cx="443.0" cy="719.3" r="1.4" fill="#d8d8d8"/>
<circle cx="438.7" cy="700.1" r="1.4" fill="#d8d8d8"/>
<circle cx="435.4" cy="725.7" r="0.9" fill="#c4c4c4"/>
<circle cx="435.2" cy="735.9" r="0.9" fill="#f0f0f0"/>
<circle cx="432.0" cy="734.8" r="0.9" fill="#d8d8d8"/>
<circle cx="446.0" cy="784.6" r="0.9" fill="#d8d8d8"/>
<circle cx="446.3" cy="700.2" r="1.4" fill="#a8a8a8"/>
<circle cx="439.1" cy="797.7" r="1.4" fill="#f0f0f0"/>
<circle cx="433.1" cy="793.8" r="0.9" fill="#d8d8d8"/>
<text transform="translate(436,701) rotate(-90)" font-size="4" fill="#cfcfcf" font-weight="bold">R4</text>
<text transform="translate(447,712) rotate(-90)" font-size="4" fill="#cfcfcf" font-weight="bold">C3</text>
<text transform="translate(433,724) rotate(-90)" font-size="4" fill="#cfcfcf" font-weight="bold">R5</text>
<text transform="translate(446,735) rotate(-90)" font-size="4" fill="#cfcfcf" font-weight="bold">R6</text>
<text transform="translate(431,746) rotate(-90)" font-size="4" fill="#cfcfcf" font-weight="bold">C2</text>
<text transform="translate(448,779) rotate(-90)" font-size="4" fill="#cfcfcf" font-weight="bold">C1</text>
<text transform="translate(434,802) rotate(-90)" font-size="4" fill="#cfcfcf" font-weight="bold">R1</text>
<text transform="translate(445,690) rotate(-90)" font-size="4" fill="#cfcfcf" font-weight="bold">Q1</text>
<text transform="translate(407,686) rotate(-90)" font-size="4" fill="#cfcfcf" font-weight="bold">C5</text>
<text transform="translate(406,735) rotate(-90)" font-size="4" fill="#cfcfcf" font-weight="bold">C6</text>
<text transform="translate(406,772) rotate(-90)" font-size="4" fill="#cfcfcf" font-weight="bold">C7</text>
<rect x="431.500" y="756" width="16" height="11" fill="#3d3d3d"/>
<rect x="432.5" y="750.500" width="2.200" height="5" fill="#d4d4d4"/><rect x="432.5" y="767.500" width="2.200" height="5" fill="#d4d4d4"/>
<rect x="436.5" y="750.500" width="2.200" height="5" fill="#d4d4d4"/><rect x="436.5" y="767.500" width="2.200" height="5" fill="#d4d4d4"/>
<rect x="440.5" y="750.500" width="2.200" height="5" fill="#d4d4d4"/><rect x="440.5" y="767.500" width="2.200" height="5" fill="#d4d4d4"/>
<rect x="444.5" y="750.500" width="2.200" height="5" fill="#d4d4d4"/><rect x="444.5" y="767.500" width="2.200" height="5" fill="#d4d4d4"/>
<text transform="translate(455,764) rotate(-90)" font-size="4.500" fill="#d0d0d0" font-weight="bold">U1</text>
<rect x="433" y="781" width="10" height="11" fill="#3a3a3a"/><ellipse cx="446" cy="787" rx="2.600" ry="3.200" fill="#e6e6e6"/>
<text transform="translate(424,792) rotate(-90)" font-size="4.500" fill="#d0d0d0" font-weight="bold">U2</text>
<rect x="419" y="805.500" width="20" height="8" rx="1.500" fill="#1c1c1c" stroke="#dedede" stroke-width="1.100"/><rect x="424" y="807.500" width="10" height="4" fill="#4a4a4a"/>
<text x="410" y="813" font-size="4.500" fill="#d0d0d0" font-weight="bold">D1</text>
<text transform="translate(416,822.500) rotate(180)" font-size="4.600" fill="#d6d6d6" font-weight="bold">GND</text>
<text transform="translate(432,822.500) rotate(180)" font-size="4.600" fill="#d6d6d6" font-weight="bold">12V</text>
<path d="M401.500,849 V824.500 H428.500 V849" fill="#161616" stroke="#e0e0e0" stroke-width="1.300"/>
<rect x="411" y="833" width="11" height="17" fill="#2a2a2a" stroke="#777" stroke-width=".8"/>
<path d="M415,846 C414,856 417,864 420.500,872" stroke="#0c0c0c" stroke-width="2.400" fill="none"/>
<path d="M418.500,846 C418,856 420,864 423.500,872" stroke="#8a8a8a" stroke-width="1" fill="none"/>
<text transform="translate(398.500,846) rotate(-90)" font-size="4.800" fill="#dcdcdc" font-weight="bold">POWER</text>
<text transform="translate(486,841.500) rotate(180)" font-size="5" fill="#d6d6d6" font-weight="bold">CYPCB-3011-1</text>
<text transform="translate(384.500,832) rotate(-90)" font-size="3.800" fill="#bdbdbd">00140311</text>
<rect x="344.3" y="688" width="47.69999999999999" height="31" fill="#2d2d2d"/>
<rect x="344.3" y="688" width="47.69999999999999" height="1.600" fill="#4a4a4a"/>
<rect x="344.3" y="717.5" width="47.69999999999999" height="1.500" fill="#1c1c1c"/>
<rect x="375.400" y="692.0" width="9.400" height="5" rx="1" fill="#e4e4e4"/>
<rect x="379" y="692.0" width="1.300" height="5" fill="#777"/>
<rect x="375.400" y="701.3" width="9.400" height="5" rx="1" fill="#e4e4e4"/>
<rect x="379" y="701.3" width="1.300" height="5" fill="#777"/>
<rect x="375.400" y="710.7" width="9.400" height="5" rx="1" fill="#e4e4e4"/>
<rect x="379" y="710.7" width="1.300" height="5" fill="#777"/>
<rect x="343.6" y="730" width="42.599999999999966" height="29.5" fill="#2d2d2d"/>
<rect x="343.6" y="730" width="42.599999999999966" height="1.600" fill="#4a4a4a"/>
<rect x="343.6" y="758.0" width="42.599999999999966" height="1.500" fill="#1c1c1c"/>
<rect x="375.400" y="733.1" width="9.400" height="5" rx="1" fill="#e4e4e4"/>
<rect x="379" y="733.1" width="1.300" height="5" fill="#777"/>
<rect x="375.400" y="742.5" width="9.400" height="5" rx="1" fill="#e4e4e4"/>
<rect x="379" y="742.5" width="1.300" height="5" fill="#777"/>
<rect x="375.400" y="751.9" width="9.400" height="5" rx="1" fill="#e4e4e4"/>
<rect x="379" y="751.9" width="1.300" height="5" fill="#777"/>
<rect x="345" y="773.2" width="42" height="29.59999999999991" fill="#2d2d2d"/>
<rect x="345" y="773.2" width="42" height="1.600" fill="#4a4a4a"/>
<rect x="345" y="801.3" width="42" height="1.500" fill="#1c1c1c"/>
<rect x="375.400" y="776.2" width="9.400" height="5" rx="1" fill="#e4e4e4"/>
<rect x="379" y="776.2" width="1.300" height="5" fill="#777"/>
<rect x="375.400" y="785.2" width="9.400" height="5" rx="1" fill="#e4e4e4"/>
<rect x="379" y="785.2" width="1.300" height="5" fill="#777"/>
<rect x="375.400" y="794.5" width="9.400" height="5" rx="1" fill="#e4e4e4"/>
<rect x="379" y="794.5" width="1.300" height="5" fill="#777"/>
<text x="350.500" y="747.500" font-size="6.500" fill="#6f6f6f">TNG</text>
<text x="349" y="757" font-size="6.500" fill="#6a6a6a">2510</text>
<text x="351.500" y="790.500" font-size="6.500" fill="#616161">TNG</text>
<text x="350" y="800.500" font-size="6.500" fill="#5c5c5c">2510</text>
<text x="351" y="706" font-size="6.500" fill="#484848">TNG</text>
<path d="M249.500,712 V695 H344 M249.500,778 V791.500 H344" fill="none" stroke="#2ab9d6" stroke-width="1.500"/>
<path d="M504.500,703.700 H539.400 V720 M504.500,800.500 H539.400 V786" fill="none" stroke="#2ab9d6" stroke-width="1.500"/>
<rect x="191.700" y="711.700" width="128.300" height="67" fill="#27c4df"/>
<rect x="519.700" y="719.300" width="96" height="67.100" fill="#27c4df"/>
</g>
<g font-weight="bold" fill="#0b1d33">
<text x="214.500" y="741.600" font-size="16" letter-spacing="-.1">3-pin fan</text>
<text x="214.500" y="759.400" font-size="15.300">connectors</text>
<text x="528" y="748" font-size="15.200">3-pin fan</text>
<text x="528" y="769.600" font-size="14.600">connectors</text>
</g>
</g>
<g id="labels">
 <g filter="url(#fatx)"><text transform="scale(0.56,1)" y="109.8" font-size="62" font-weight="bold" fill="#fff"><tspan x="545.0" letter-spacing="10.1">I/O </tspan><tspan x="682.3" letter-spacing="5.37">PANEL </tspan><tspan x="941.8" letter-spacing="8.02">WITH </tspan><tspan x="1155.2" letter-spacing="4.69">DUST </tspan><tspan x="1367.9" letter-spacing="3.77">PLUGS</tspan></text></g>
 <text transform="scale(0.6,1)" y="578.1" font-size="28.9" font-weight="bold" fill="#1fd0ee" stroke="#1fd0ee" stroke-width="0.9"><tspan x="387.9" letter-spacing="3.17">BUILT-IN </tspan><tspan x="545.4" letter-spacing="1.75">FAN </tspan><tspan x="620.0" letter-spacing="0.71">SPEED </tspan><tspan x="735.8" letter-spacing="0.87">CONTROLLER</tspan></text>
 <text x="300.3" y="603.8" font-size="19.5" font-weight="bold" fill="#fff">Supports up to 6 fans</text>
 <g font-size="15.15" font-weight="bold" fill="#fff">
  <text x="206" y="382.6">The fan-speed control</text>
  <text x="206" y="403.2" letter-spacing="-.1">button provides high &amp;</text>
  <text x="206" y="423.8">low modes.</text>
 </g>
 <line class="ln" x1="757.5" y1="499" x2="757.5" y2="731.5"/>
 <line class="ln" x1="782.5" y1="478" x2="782.5" y2="676.5"/>
 <line class="ln" x1="808.2" y1="461" x2="808.2" y2="637"/>
 <line class="ln" x1="834.3" y1="442" x2="834.3" y2="596.5"/>
 <line class="ln" x1="851.8" y1="422" x2="851.8" y2="560.2"/>
 <line class="ln" x1="867" y1="402.5" x2="867" y2="510"/>
 <line x1="893.8" y1="378" x2="893.8" y2="462" stroke="#2fd0cc" stroke-width="2"/>
 <text class="lbl" x="762" y="731.3" textLength="66" lengthAdjust="spacingAndGlyphs">Power</text>
 <text class="lbl" x="786.8" y="675.9" textLength="190" lengthAdjust="spacingAndGlyphs">Fan Speed Control</text>
 <text class="lbl" x="812" y="636.6" textLength="77.6" lengthAdjust="spacingAndGlyphs">USB3.0</text>
 <text class="lbl" x="839.4" y="596.1" textLength="75.6" lengthAdjust="spacingAndGlyphs">HD Mic</text>
 <text class="lbl" x="857.6" y="560" textLength="98.5" lengthAdjust="spacingAndGlyphs">HD Audio</text>
 <text class="lbl" x="872.1" y="509.8" textLength="77.4" lengthAdjust="spacingAndGlyphs">USB3.0</text>
 <g font-size="28" font-weight="bold" font-style="italic" fill="#1eeede" stroke="#1eeede" stroke-width=".5">
  <text x="905.3" y="429" textLength="86.5" lengthAdjust="spacingAndGlyphs">USB3.1</text>
  <text x="906.3" y="457.7" textLength="83" lengthAdjust="spacingAndGlyphs">Type-C</text>
 </g>
</g>

</svg>
</div>
</body>
</html>
